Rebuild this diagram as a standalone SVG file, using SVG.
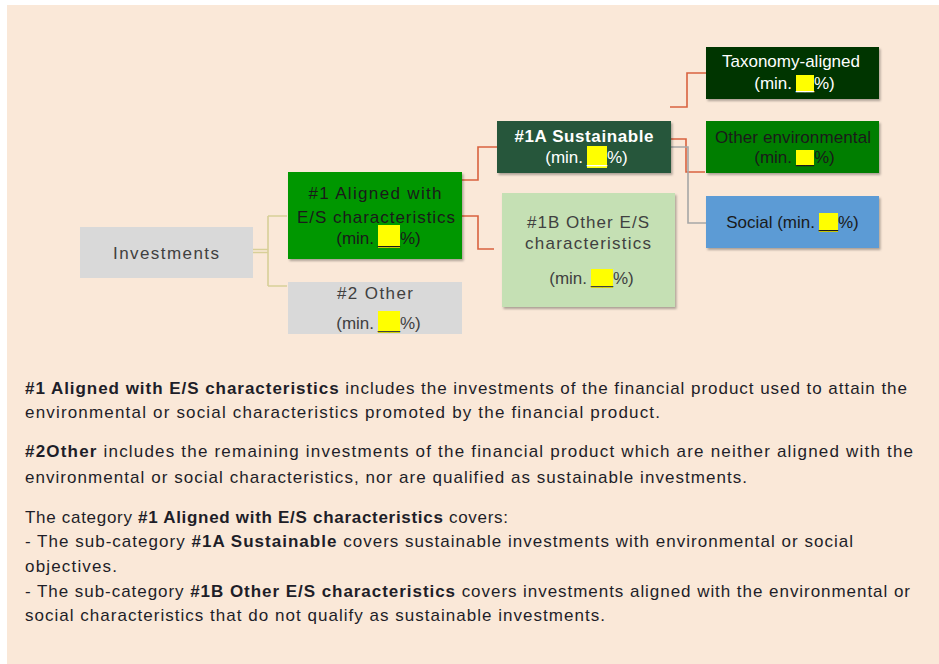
<svg xmlns="http://www.w3.org/2000/svg" width="939" height="664" viewBox="0 0 939 664">
<style>
text{font-family:"Liberation Sans",Arial,sans-serif;font-size:17px;}
.c{text-anchor:middle}
.e{text-anchor:end}
.dk{fill:#1a1a1a}
.gr{fill:#404040}
.wh{fill:#ffffff}
.hl{fill:#ffff00}
.body{fill:#1e1e28}
.b{font-weight:bold}
.red{fill:none;stroke:#d9623f;stroke-width:1.6}
.olv{fill:none;stroke:#d8cf98;stroke-width:1.6}
.gry{fill:none;stroke:#a6a6a6;stroke-width:1.6}
</style>
<defs>
<filter id="sh" x="-10%" y="-10%" width="120%" height="130%">
<feDropShadow dx="1.5" dy="2" stdDeviation="1.2" flood-color="#000" flood-opacity="0.3"/>
</filter>
</defs>
<rect x="0" y="0" width="939" height="664" fill="#ffffff"/>
<rect x="7" y="5" width="932" height="659" fill="#fae8d8"/>

<g id="connectors">
<path class="olv" d="M253 249.5H268M253 252.5H268M268 216V286M268 216H287M268 286H287"/>
<path class="red" d="M462 180H478V147H497"/>
<path class="red" d="M462 216H478V249H494"/>
<path class="red" d="M670 107H687V73H706"/>
<path class="red" d="M671 139H686V172H705"/>
<path class="gry" d="M671 147H688V223H706"/>
</g>

<g id="investments">
<rect x="80" y="227" width="173" height="51" fill="#d9d9d9"/>
<text class="c gr" x="166" y="259" textLength="106">Investments</text>
</g>

<g id="aligned">
<rect x="288" y="172" width="174" height="87" fill="#009700" filter="url(#sh)"/>
<text class="c dk" x="375" y="199" textLength="133">#1 Aligned with</text>
<text class="c dk" x="376" y="223" textLength="158">E/S characteristics</text>
<text class="e dk" x="374" y="244">(min.</text>
<rect class="hl" x="378" y="225" width="22" height="23"/>
<text class="dk" x="378" y="244" textLength="22" lengthAdjust="spacingAndGlyphs">__</text>
<text class="dk" x="400" y="244">%)</text>
</g>

<g id="other2">
<rect x="288" y="282" width="174" height="52" fill="#d9d9d9"/>
<text class="c gr" x="375" y="299" textLength="76">#2 Other</text>
<text class="e gr" x="374" y="329">(min.</text>
<rect class="hl" x="378" y="311" width="22" height="22"/>
<text class="gr" x="378" y="329" textLength="22" lengthAdjust="spacingAndGlyphs">__</text>
<text class="gr" x="400" y="329">%)</text>
</g>

<g id="sustainable">
<rect x="497" y="121" width="174" height="52" fill="#27573a" filter="url(#sh)"/>
<text class="c wh" x="584" y="142" textLength="139" font-weight="bold">#1A Sustainable</text>
<text class="e wh" x="583" y="163">(min.</text>
<rect class="hl" x="587" y="146" width="20" height="22"/>
<text class="wh" x="587" y="163" textLength="20" lengthAdjust="spacingAndGlyphs">__</text>
<text class="wh" x="607" y="163">%)</text>
</g>

<g id="otheres">
<rect x="502" y="193" width="173" height="114" fill="#c5e0b4" filter="url(#sh)"/>
<text class="c gr" x="588" y="228" textLength="122">#1B Other E/S</text>
<text class="c gr" x="588" y="249" textLength="126">characteristics</text>
<text class="e gr" x="587" y="284">(min.</text>
<rect class="hl" x="591" y="269" width="22" height="19"/>
<text class="gr" x="591" y="284" textLength="22" lengthAdjust="spacingAndGlyphs">__</text>
<text class="gr" x="613" y="284">%)</text>
</g>

<g id="taxonomy">
<rect x="706" y="47" width="173" height="52" fill="#033505" filter="url(#sh)"/>
<text class="c wh" x="791" y="67" textLength="138">Taxonomy-aligned</text>
<text class="e wh" x="792" y="89">(min.</text>
<rect class="hl" x="796" y="75" width="18" height="17"/>
<text class="wh" x="796" y="89" textLength="18" lengthAdjust="spacingAndGlyphs">__</text>
<text class="wh" x="814" y="89">%)</text>
</g>

<g id="otherenv">
<rect x="706" y="121" width="173" height="52" fill="#007e00" filter="url(#sh)"/>
<text class="c dk" x="793" y="143" textLength="156">Other environmental</text>
<text class="e dk" x="792" y="163">(min.</text>
<rect class="hl" x="796" y="150" width="18" height="16"/>
<text class="dk" x="796" y="163" textLength="18" lengthAdjust="spacingAndGlyphs">__</text>
<text class="dk" x="814" y="163">%)</text>
</g>

<g id="social">
<rect x="706" y="196" width="173" height="52" fill="#5b9bd5" filter="url(#sh)"/>
<text class="e dk" x="815" y="228">Social (min.</text>
<rect class="hl" x="819" y="213" width="19" height="19"/>
<text class="dk" x="819" y="228" textLength="19" lengthAdjust="spacingAndGlyphs">__</text>
<text class="dk" x="838" y="228">%)</text>
</g>

<g id="legend">
<text class="body" x="25" y="394" textLength="882"><tspan class="b">#1 Aligned with E/S characteristics</tspan> includes the investments of the financial product used to attain the</text>
<text class="body" x="25" y="418" textLength="635">environmental or social characteristics promoted by the financial product.</text>
<text class="body" x="25" y="457" textLength="888"><tspan class="b">#2Other</tspan> includes the remaining investments of the financial product which are neither aligned with the</text>
<text class="body" x="25" y="483" textLength="722">environmental or social characteristics, nor are qualified as sustainable investments.</text>
<text class="body" x="25" y="523" textLength="483">The category <tspan class="b">#1 Aligned with E/S characteristics</tspan> covers:</text>
<text class="body" x="25" y="547" textLength="828">- The sub-category <tspan class="b">#1A Sustainable</tspan> covers sustainable investments with environmental or social</text>
<text class="body" x="25" y="572" textLength="92">objectives.</text>
<text class="body" x="25" y="597" textLength="885">- The sub-category <tspan class="b">#1B Other E/S characteristics</tspan> covers investments aligned with the environmental or</text>
<text class="body" x="25" y="621" textLength="580">social characteristics that do not qualify as sustainable investments.</text>
</g>
</svg>
